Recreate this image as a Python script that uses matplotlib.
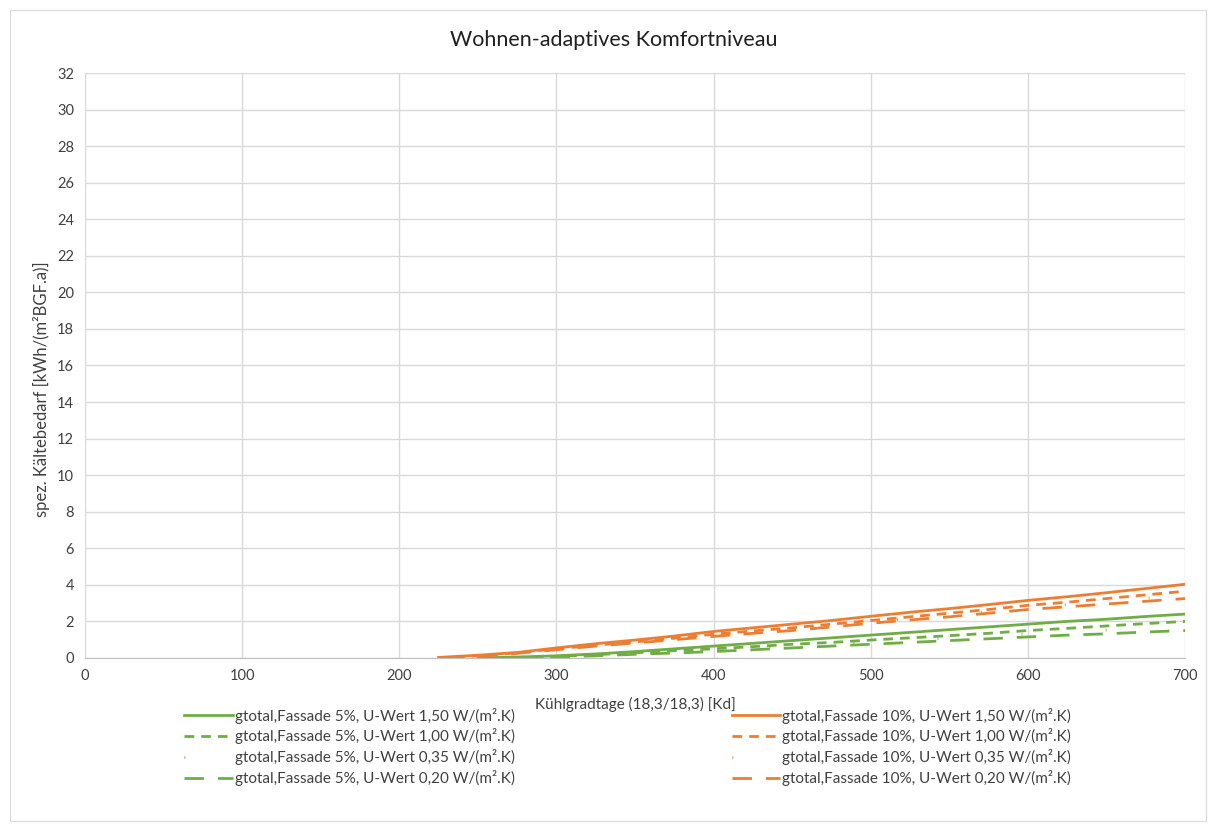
import matplotlib

matplotlib.use("Agg")
import matplotlib.pyplot as plt
import numpy as np
from matplotlib.patches import Rectangle

nan = float("nan")

# Kühlgradtage [Kd]
kd = [200, 225, 250, 275, 300, 325, 350, 375, 400, 425, 450, 475, 500,
      525, 550, 575, 600, 625, 650, 675, 700]

# Fassade 10%
o_150 = [nan, 0.03, 0.15, 0.30, 0.55, 0.78, 0.98, 1.20, 1.45, 1.65, 1.85, 2.05, 2.28,
         2.50, 2.70, 2.92, 3.15, 3.35, 3.57, 3.80, 4.03]
o_100 = [nan, 0.00, 0.12, 0.28, 0.50, 0.70, 0.88, 1.08, 1.30, 1.48, 1.65, 1.85, 2.05,
         2.25, 2.45, 2.65, 2.88, 3.05, 3.25, 3.45, 3.65]
o_035 = [nan, nan, 0.10, 0.26, 0.47, 0.67, 0.85, 1.04, 1.24, 1.41, 1.57, 1.77, 1.97,
         2.16, 2.35, 2.55, 2.76, 2.92, 3.10, 3.27, 3.45]
o_020 = [nan, nan, 0.08, 0.25, 0.45, 0.65, 0.82, 1.00, 1.18, 1.35, 1.50, 1.70, 1.90,
         2.08, 2.25, 2.45, 2.65, 2.80, 2.95, 3.10, 3.25]

# Fassade 5%
g_150 = [nan, nan, 0.00, 0.05, 0.12, 0.22, 0.35, 0.50, 0.65, 0.80, 0.95, 1.10, 1.25,
         1.40, 1.55, 1.70, 1.85, 2.00, 2.12, 2.27, 2.40]
g_100 = [nan, nan, nan, 0.03, 0.08, 0.18, 0.28, 0.40, 0.50, 0.62, 0.75, 0.85, 0.98,
         1.10, 1.22, 1.35, 1.50, 1.62, 1.75, 1.88, 2.00]
g_035 = [nan, nan, nan, 0.01, 0.06, 0.15, 0.24, 0.33, 0.42, 0.53, 0.65, 0.75, 0.86,
         0.97, 1.08, 1.20, 1.32, 1.43, 1.53, 1.65, 1.75]
g_020 = [nan, nan, nan, 0.00, 0.05, 0.12, 0.20, 0.27, 0.35, 0.45, 0.55, 0.65, 0.75,
         0.85, 0.95, 1.05, 1.15, 1.25, 1.32, 1.42, 1.50]

GREEN = "#70ad47"
ORANGE = "#ed7d31"
DASH = (0, (3.5, 2.5))
LONG = (0, (7, 5))
DOT = (0, (0.3, 30))

plt.rcParams["font.family"] = ["Lato", "DejaVu Sans"]

fig = plt.figure(figsize=(12.08, 8.24), dpi=100)
fig.patches.append(Rectangle((0.008, 0.004), 0.99, 0.984, transform=fig.transFigure,
                             fill=False, edgecolor="#d9d9d9", linewidth=0.8))
ax = fig.add_axes([0.0704, 0.2015, 0.9106, 0.7099])

x = np.array(kd)
lw = 2.0
series = [
    (g_150, GREEN, "-", "gtotal,Fassade 5%, U-Wert 1,50 W/(m².K)"),
    (o_150, ORANGE, "-", "gtotal,Fassade 10%, U-Wert 1,50 W/(m².K)"),
    (g_100, GREEN, DASH, "gtotal,Fassade 5%, U-Wert 1,00 W/(m².K)"),
    (o_100, ORANGE, DASH, "gtotal,Fassade 10%, U-Wert 1,00 W/(m².K)"),
    (g_035, GREEN, DOT, "gtotal,Fassade 5%, U-Wert 0,35 W/(m².K)"),
    (o_035, ORANGE, DOT, "gtotal,Fassade 10%, U-Wert 0,35 W/(m².K)"),
    (g_020, GREEN, LONG, "gtotal,Fassade 5%, U-Wert 0,20 W/(m².K)"),
    (o_020, ORANGE, LONG, "gtotal,Fassade 10%, U-Wert 0,20 W/(m².K)"),
]
handles = {}
for ys, col, ls, lab in series:
    (ln,) = ax.plot(x, ys, color=col, linestyle=ls, linewidth=lw, label=lab)
    handles[lab] = ln

ax.set_xlim(0, 700)
ax.set_ylim(0, 32)
ax.set_xticks(range(0, 701, 100))
ax.set_yticks(range(0, 33, 2))
ax.grid(True, color="#d9d9d9", linewidth=1.0)
ax.set_axisbelow(True)
for s in ("top", "right", "left"):
    ax.spines[s].set_visible(False)
ax.spines["bottom"].set_color("#bfbfbf")
ax.tick_params(length=0, labelsize=10.5, colors="#404040", pad=8)

fig.text(0.508, 0.951, "Wohnen-adaptives Komfortniveau", fontsize=15.5, color="#202020",
         ha="center", va="center")
ax.set_xlabel("Kühlgradtage (18,3/18,3) [Kd]", fontsize=11, color="#404040", labelpad=10)
ax.set_ylabel("spez. Kältebedarf [kWh/(m²BGF.a)]", fontsize=12, color="#404040")
ax.yaxis.set_label_coords(-0.032, 0.46)

order = [s[3] for s in series[0::2]] + [s[3] for s in series[1::2]]
leg = fig.legend([handles[k] for k in order], order, loc="upper center", ncol=2,
                 bbox_to_anchor=(0.5195, 0.158), frameon=False, fontsize=11,
                 handlelength=3.2, handletextpad=0.1, columnspacing=14.2,
                 labelspacing=0.32, labelcolor="#404040")

fig.savefig("out.png", dpi=100)
